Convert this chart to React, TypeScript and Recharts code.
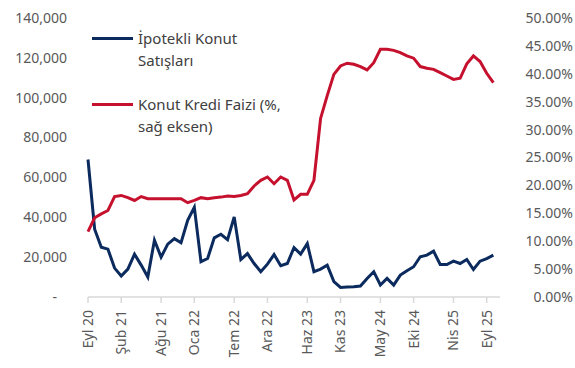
import { LineChart, Line, XAxis, YAxis, Legend } from 'recharts';

const months = [
  'Eyl 20', 'Eki 20', 'Kas 20', 'Ara 20',
  'Oca 21', 'Şub 21', 'Mar 21', 'Nis 21', 'May 21', 'Haz 21', 'Tem 21', 'Ağu 21', 'Eyl 21', 'Eki 21', 'Kas 21', 'Ara 21',
  'Oca 22', 'Şub 22', 'Mar 22', 'Nis 22', 'May 22', 'Haz 22', 'Tem 22', 'Ağu 22', 'Eyl 22', 'Eki 22', 'Kas 22', 'Ara 22',
  'Oca 23', 'Şub 23', 'Mar 23', 'Nis 23', 'May 23', 'Haz 23', 'Tem 23', 'Ağu 23', 'Eyl 23', 'Eki 23', 'Kas 23', 'Ara 23',
  'Oca 24', 'Şub 24', 'Mar 24', 'Nis 24', 'May 24', 'Haz 24', 'Tem 24', 'Ağu 24', 'Eyl 24', 'Eki 24', 'Kas 24', 'Ara 24',
  'Oca 25', 'Şub 25', 'Mar 25', 'Nis 25', 'May 25', 'Haz 25', 'Tem 25', 'Ağu 25', 'Eyl 25', 'Eki 25',
];

// ipotekli konut satışları (adet)
const mortgageSales = [
  69000, 34000, 25000, 24000, 14500, 10500, 14000, 21500, 16000, 10000,
  28500, 20000, 26500, 29300, 27200, 38500, 45000, 17700, 19300, 29700,
  31500, 28800, 40200, 18800, 21800, 16800, 12700, 16500, 21300, 15700,
  16800, 24800, 21500, 26800, 12700, 14000, 16000, 7700, 4800, 5000,
  5200, 5500, 9300, 12700, 6000, 9300, 6000, 11000, 13200, 15200,
  20200, 21000, 23000, 16300, 16300, 18000, 16800, 18800, 13800, 18000,
  19300, 21000,
];

// konut kredi faizi (%)
const loanRate = [
  11.7, 14.2, 14.9, 15.5, 18.0, 18.2, 17.8, 17.3, 18.0, 17.6,
  17.6, 17.6, 17.6, 17.6, 17.6, 16.9, 17.3, 17.8, 17.6, 17.8,
  17.9, 18.1, 18.0, 18.2, 18.5, 19.9, 20.9, 21.5, 20.3, 21.5,
  20.9, 17.4, 18.4, 18.4, 20.9, 32.0, 36.1, 39.9, 41.4, 41.9,
  41.7, 41.3, 40.7, 42.0, 44.4, 44.4, 44.2, 43.8, 43.2, 42.8,
  41.3, 41.0, 40.8, 40.2, 39.6, 39.0, 39.2, 41.8, 43.2, 42.2,
  40.1, 38.4,
];

const monthTicks = [0, 5, 11, 16, 22, 27, 33, 38, 44, 49, 55, 60];
const salesTicks = [0, 20000, 40000, 60000, 80000, 100000, 120000, 140000];
const rateTicks = [0, 5, 10, 15, 20, 25, 30, 35, 40, 45, 50];
const legendOrder = ['sales', 'rate'];

const data = months.map((m, i) => ({ idx: i, month: m, sales: mortgageSales[i], rate: loanRate[i] }));

const FONT = '"Noto Sans", "Open Sans", sans-serif';
const AXIS_TEXT = '#595959';
const BLUE = '#0B2A5E';
const RED = '#C5102E';

const MonthTick = ({ x, y, payload }: any) => (
  <g transform={`translate(${x},${y})`}>
    <text transform="rotate(-90)" x={-5} dy="0.35em" textAnchor="end" fill={AXIS_TEXT} fontSize={14} fontFamily={FONT}>
      {months[payload.value]}
    </text>
  </g>
);

const SalesTick = ({ x, y, payload }: any) => (
  <text x={payload.value === 0 ? x - 10 : x} y={y} dy="0.35em" textAnchor="end" fill={AXIS_TEXT} fontSize={14} fontFamily={FONT}>
    {payload.value === 0 ? '-' : payload.value.toLocaleString('en-US')}
  </text>
);

const RateTick = ({ x, y, payload }: any) => (
  <text x={x + 65} y={y} dy="0.35em" textAnchor="end" fill={AXIS_TEXT} fontSize={14} fontFamily={FONT}>
    {payload.value.toFixed(2) + '%'}
  </text>
);

const LegendBox = ({ payload }: any) => {
  const items = [...(payload || [])].sort(
    (a: any, b: any) => legendOrder.indexOf(a.dataKey) - legendOrder.indexOf(b.dataKey)
  );
  return (
    <div style={{ fontFamily: FONT, fontSize: 15, color: '#404040', lineHeight: '22px' }}>
      {items.map((p: any, k: number) => (
        <div key={k} style={{ display: 'flex', alignItems: 'flex-start', marginBottom: k === 0 ? 22 : 0 }}>
          <div style={{ width: 41, height: 3, background: p.color, marginTop: 10, marginRight: 5 }} />
          <div style={{ whiteSpace: 'pre-line' }}>{p.value}</div>
        </div>
      ))}
    </div>
  );
};

export default function App() {
  return (
    <div style={{ width: 575, height: 368, background: '#fff' }}>
      <style>{'body{margin:0}'}</style>
      <LineChart width={575} height={368} data={data} margin={{ top: 18, right: 0, left: 0, bottom: 0 }}>
        <XAxis
          type="number"
          dataKey="idx"
          domain={[0, 62]}
          ticks={monthTicks}
          interval={0}
          height={71}
          tick={<MonthTick />}
          axisLine={{ stroke: '#D9D9D9', strokeWidth: 1.5 }}
          tickLine={{ stroke: '#D9D9D9', strokeWidth: 1.5 }}
          tickSize={6}
        />
        <YAxis
          yAxisId="left"
          domain={[0, 140000]}
          ticks={salesTicks}
          interval={0}
          width={88}
          axisLine={false}
          tickLine={false}
          tickMargin={15}
          tick={<SalesTick />}
        />
        <YAxis
          yAxisId="right"
          orientation="right"
          domain={[0, 50]}
          ticks={rateTicks}
          interval={0}
          width={75}
          axisLine={false}
          tickLine={false}
          tick={<RateTick />}
        />
        <Legend
          layout="horizontal"
          verticalAlign="middle"
          align="center"
          wrapperStyle={{ top: 27, left: 92, width: 240 }}
          content={<LegendBox />}
        />
        <Line
          yAxisId="left"
          type="linear"
          dataKey="sales"
          name={'İpotekli Konut\nSatışları'}
          stroke={BLUE}
          strokeWidth={3}
          dot={false}
          isAnimationActive={false}
        />
        <Line
          yAxisId="right"
          type="linear"
          dataKey="rate"
          name={'Konut Kredi Faizi (%,\nsağ eksen)'}
          stroke={RED}
          strokeWidth={3}
          dot={false}
          isAnimationActive={false}
        />
      </LineChart>
    </div>
  );
}
